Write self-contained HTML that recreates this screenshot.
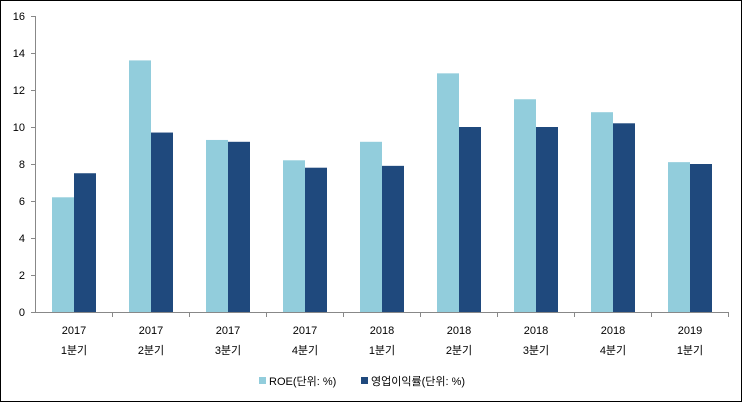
<!DOCTYPE html><html><head><meta charset="utf-8"><style>body{margin:0;background:#fff}</style></head><body>
<svg width="743" height="403" xmlns="http://www.w3.org/2000/svg" font-family="Liberation Sans, Noto Sans CJK KR, sans-serif" font-size="11" fill="#000">
<rect x="0.5" y="0.5" width="741" height="401" fill="#fff" stroke="#000"/>
<g fill="#92CDDC">
<rect x="52" y="197.3" width="22" height="114.7"/>
<rect x="129" y="60.4" width="22" height="251.6"/>
<rect x="206" y="139.95" width="22" height="172.05"/>
<rect x="283" y="160.3" width="22" height="151.7"/>
<rect x="360" y="141.8" width="22" height="170.2"/>
<rect x="437" y="73.35" width="22" height="238.65"/>
<rect x="514" y="99.25" width="22" height="212.75"/>
<rect x="591" y="112.2" width="22" height="199.8"/>
<rect x="668" y="162.15" width="22" height="149.85"/>
</g>
<g fill="#1F497D">
<rect x="74" y="173.25" width="22" height="138.75"/>
<rect x="151" y="132.55" width="22" height="179.45"/>
<rect x="228" y="141.8" width="22" height="170.2"/>
<rect x="305" y="167.7" width="22" height="144.3"/>
<rect x="382" y="165.85" width="22" height="146.15"/>
<rect x="459" y="127" width="22" height="185"/>
<rect x="536" y="127" width="22" height="185"/>
<rect x="613" y="123.3" width="22" height="188.7"/>
<rect x="690" y="164" width="22" height="148"/>
</g>
<line x1="35.5" y1="16" x2="35.5" y2="313" stroke="#888"/>
<line x1="35" y1="312.5" x2="729" y2="312.5" stroke="#888"/>
<g text-anchor="end">
<text x="25" y="316">0</text><text x="25" y="279">2</text><text x="25" y="242">4</text><text x="25" y="205">6</text><text x="25" y="168">8</text><text x="25" y="131">10</text><text x="25" y="94">12</text><text x="25" y="57">14</text><text x="25" y="20">16</text>
</g>
<g stroke="#888">
<line x1="31" x2="35" y1="312.5" y2="312.5"/><line x1="31" x2="35" y1="275.5" y2="275.5"/><line x1="31" x2="35" y1="238.5" y2="238.5"/><line x1="31" x2="35" y1="201.5" y2="201.5"/><line x1="31" x2="35" y1="164.5" y2="164.5"/><line x1="31" x2="35" y1="127.5" y2="127.5"/><line x1="31" x2="35" y1="90.5" y2="90.5"/><line x1="31" x2="35" y1="53.5" y2="53.5"/><line x1="31" x2="35" y1="16.5" y2="16.5"/>
<line x1="112.5" x2="112.5" y1="312" y2="317"/><line x1="189.5" x2="189.5" y1="312" y2="317"/><line x1="266.5" x2="266.5" y1="312" y2="317"/><line x1="343.5" x2="343.5" y1="312" y2="317"/><line x1="420.5" x2="420.5" y1="312" y2="317"/><line x1="497.5" x2="497.5" y1="312" y2="317"/><line x1="574.5" x2="574.5" y1="312" y2="317"/><line x1="651.5" x2="651.5" y1="312" y2="317"/><line x1="728.5" x2="728.5" y1="312" y2="317"/>
</g>
<g text-anchor="middle">
<text x="74" y="334">2017</text><text x="74" y="354">1분기</text>
<text x="151" y="334">2017</text><text x="151" y="354">2분기</text>
<text x="228" y="334">2017</text><text x="228" y="354">3분기</text>
<text x="305" y="334">2017</text><text x="305" y="354">4분기</text>
<text x="382" y="334">2018</text><text x="382" y="354">1분기</text>
<text x="459" y="334">2018</text><text x="459" y="354">2분기</text>
<text x="536" y="334">2018</text><text x="536" y="354">3분기</text>
<text x="613" y="334">2018</text><text x="613" y="354">4분기</text>
<text x="690" y="334">2019</text><text x="690" y="354">1분기</text>
</g>
<rect x="259" y="377" width="7" height="7" fill="#92CDDC"/><text x="269" y="385">ROE(단위: %)</text>
<rect x="361" y="377" width="7" height="7" fill="#1F497D"/><text x="371" y="385">영업이익률(단위: %)</text>
</svg></body></html>
